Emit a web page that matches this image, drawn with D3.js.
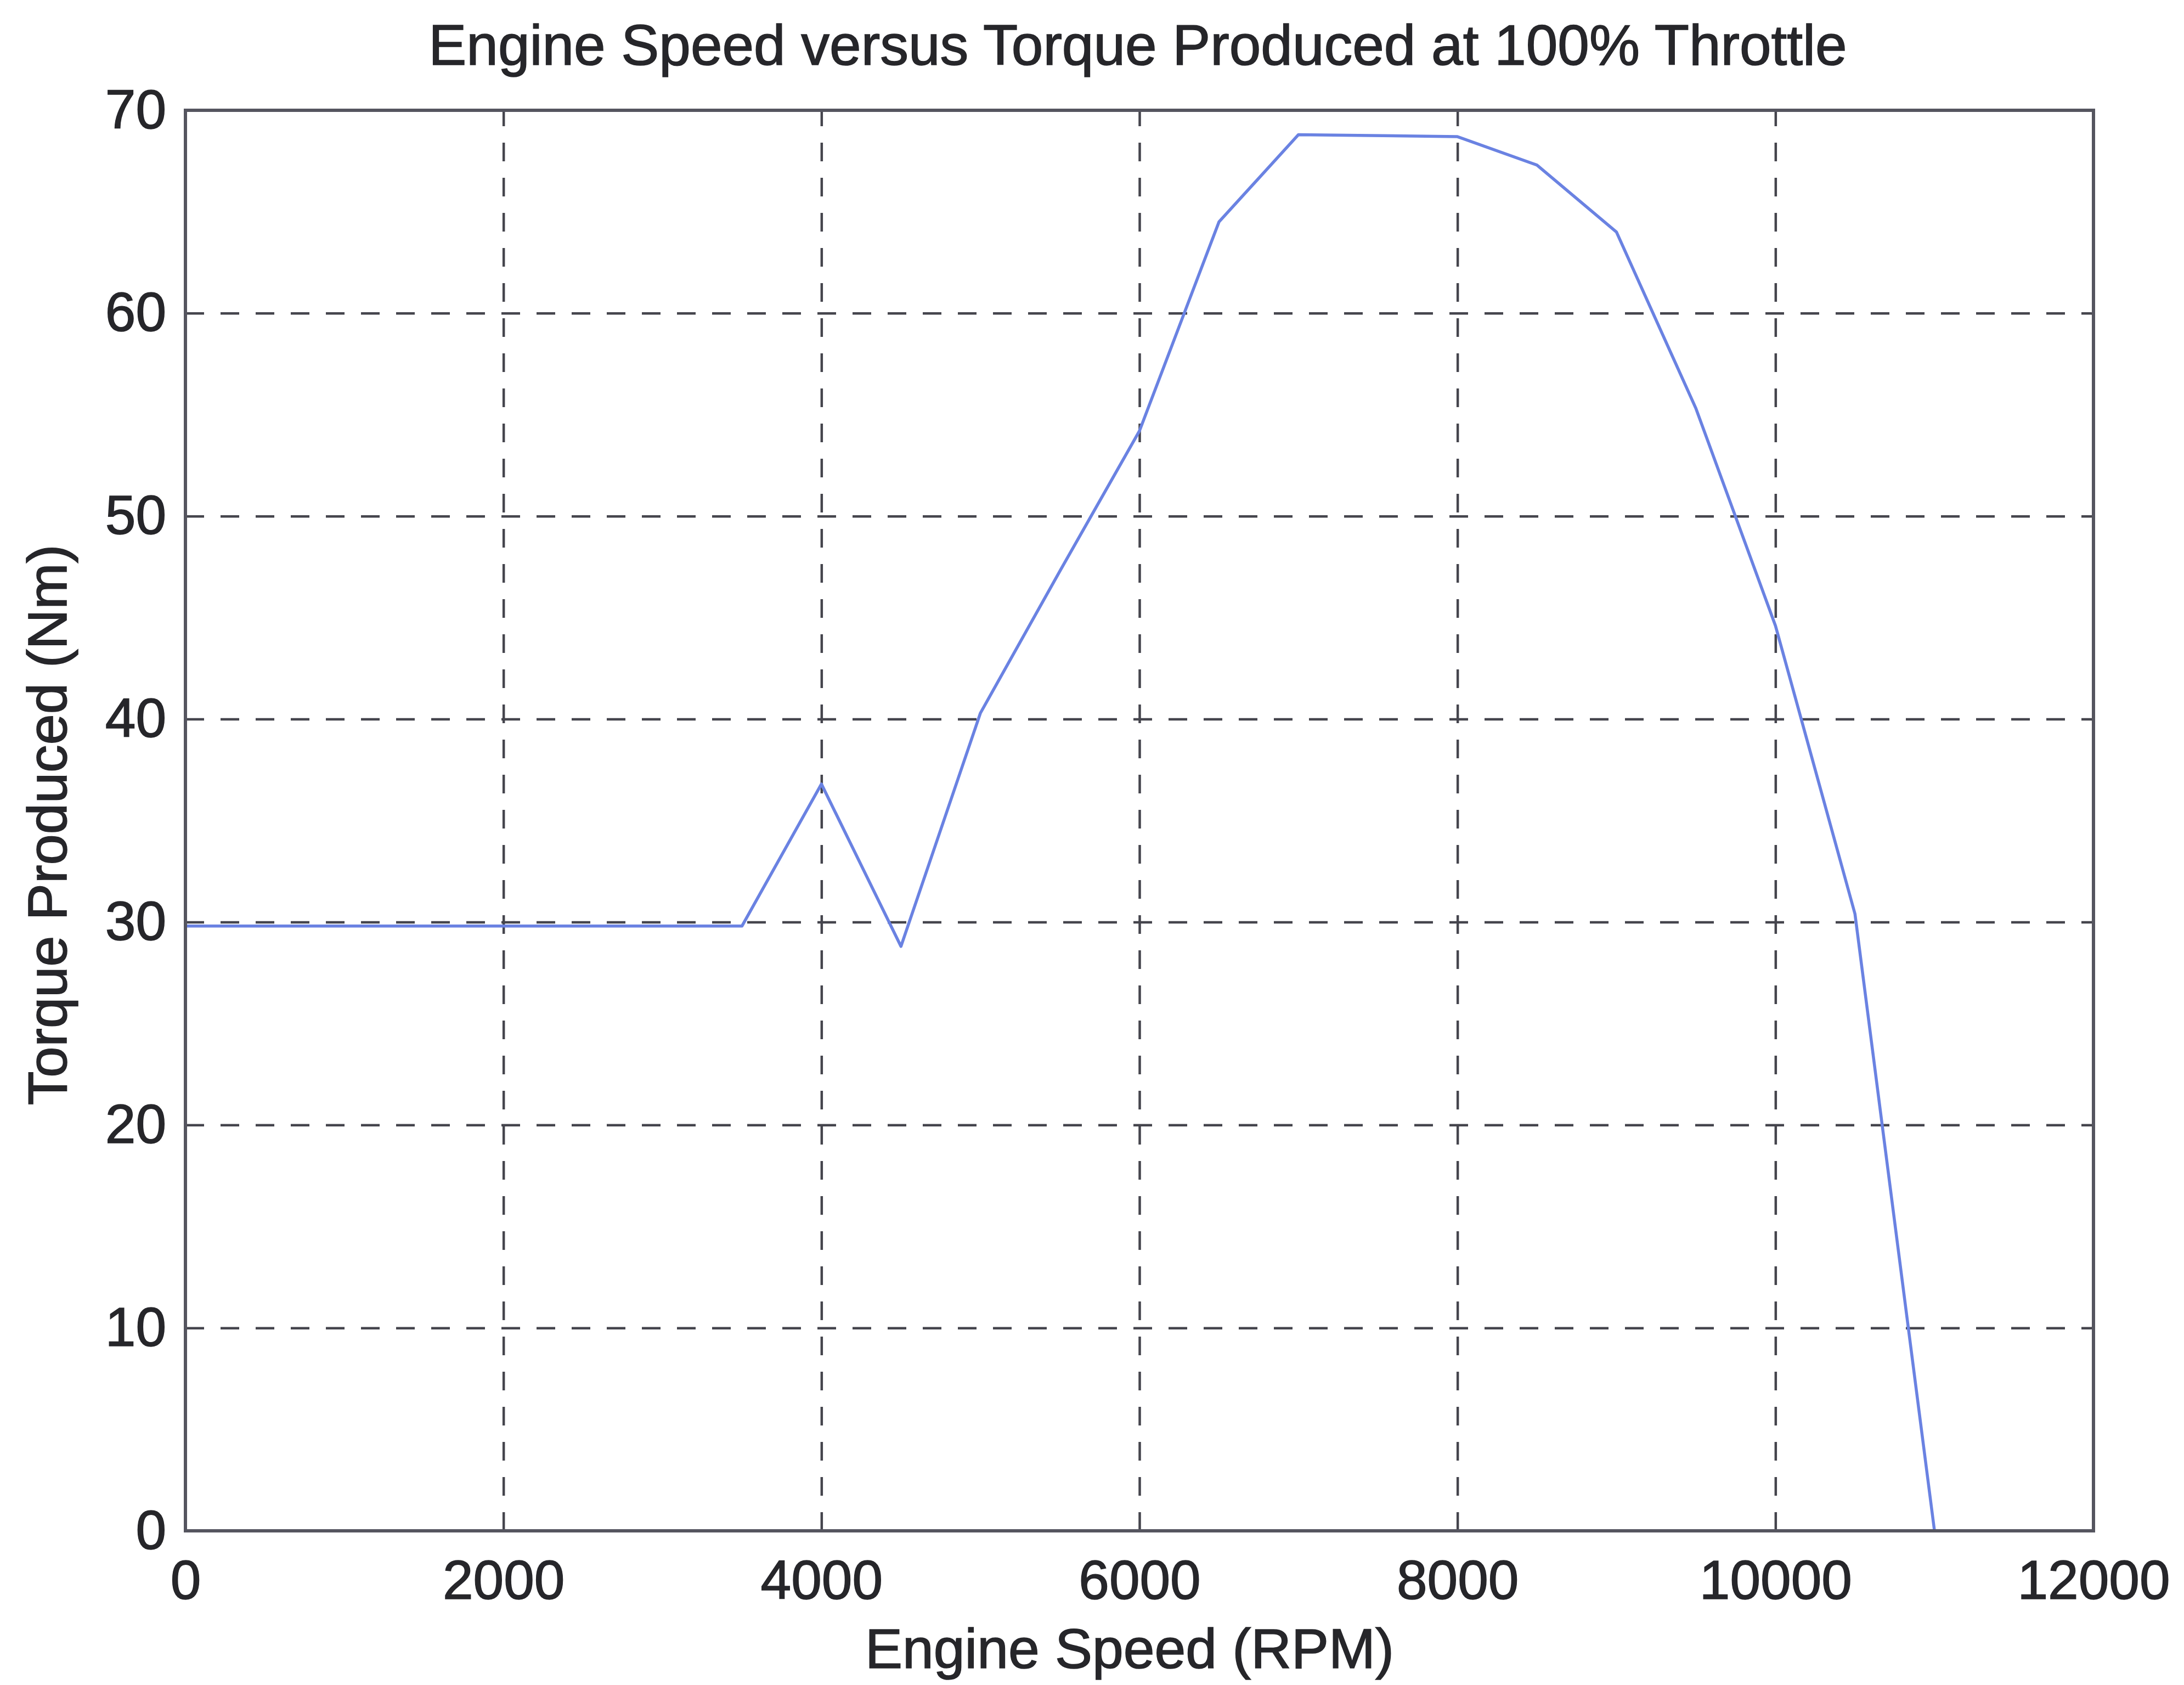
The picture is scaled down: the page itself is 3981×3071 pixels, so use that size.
<!DOCTYPE html>
<html>
<head>
<meta charset="utf-8">
<script src="https://cdn.jsdelivr.net/npm/d3@7"></script>
<style>
  html, body { margin: 0; padding: 0; background: #ffffff; }
  svg { display: block; }
  text { font-family: "Liberation Sans", Arial, Helvetica, sans-serif; fill: #26262a; stroke: #26262a; stroke-width: 1.6; }
</style>
</head>
<body>
<svg id="chart" width="3981" height="3071"></svg>
<script>
// Full-throttle torque curve: engine speed (RPM) against torque (Nm)
const engineSpeed = [0, 3500, 4000, 4500, 5000, 5500, 6000, 6500, 7000, 8000, 8500, 9000, 9500, 10000, 10500, 11000];
const torqueNm    = [29.8, 29.8, 36.8, 28.8, 40.3, 47.3, 54.2, 64.5, 68.8, 68.7, 67.3, 64.0, 55.3, 44.6, 30.4, 0];

const xTicks = [0, 2000, 4000, 6000, 8000, 10000, 12000];
const yTicks = [0, 10, 20, 30, 40, 50, 60, 70];

const titleText  = "Engine Speed versus Torque Produced at 100% Throttle";
const xLabelText = "Engine Speed (RPM)";
const yLabelText = "Torque Produced (Nm)";

const W = 3981, H = 3071;
const margin = { left: 338, right: W - 3816, top: 201, bottom: H - 2790 };
const iw = W - margin.left - margin.right;
const ih = H - margin.top - margin.bottom;

const svg = d3.select("#chart");
svg.append("rect").attr("width", W).attr("height", H).attr("fill", "#ffffff");

const g = svg.append("g").attr("transform", `translate(${margin.left},${margin.top})`);

const x = d3.scaleLinear().domain([0, 12000]).range([0, iw]);
const y = d3.scaleLinear().domain([0, 70]).range([ih, 0]);

// dashed grid
const gridStyle = sel => {
  sel.select(".domain").remove();
  sel.selectAll(".tick line")
    .attr("stroke", "#45454d")
    .attr("stroke-width", 4.5)
    .attr("stroke-dasharray", "34 30");
  sel.selectAll(".tick text").remove();
};
g.append("g")
  .attr("transform", `translate(0,${ih})`)
  .call(d3.axisBottom(x).tickValues(xTicks.slice(1, -1)).tickSize(-ih))
  .call(gridStyle);
g.append("g")
  .call(d3.axisLeft(y).tickValues(yTicks.slice(1, -1)).tickSize(-iw))
  .call(gridStyle);

// tick labels
const labelStyle = sel => {
  sel.select(".domain").remove();
  sel.selectAll(".tick line").remove();
  sel.selectAll(".tick text")
    .attr("font-size", 100)
    .attr("fill", "#26262a")
    .attr("font-family", "\"Liberation Sans\", Arial, sans-serif");
};
g.append("g")
  .attr("transform", `translate(0,${ih})`)
  .call(d3.axisBottom(x).tickValues(xTicks).tickSize(0).tickPadding(53).tickFormat(d3.format("d")))
  .call(labelStyle);
g.append("g")
  .call(d3.axisLeft(y).tickValues(yTicks).tickSize(0).tickPadding(35).tickFormat(d3.format("d")))
  .call(labelStyle);

// torque curve
const pts = engineSpeed.map((r, i) => [r, torqueNm[i]]);
g.append("path")
  .datum(pts)
  .attr("fill", "none")
  .attr("stroke", "#6a82e2")
  .attr("stroke-width", 5.5)
  .attr("stroke-linejoin", "round")
  .attr("d", d3.line().x(d => x(d[0])).y(d => y(d[1])));

// axes box
g.append("rect")
  .attr("x", 0).attr("y", 0)
  .attr("width", iw).attr("height", ih)
  .attr("fill", "none")
  .attr("stroke", "#55555f")
  .attr("stroke-width", 6);

// title and axis labels
svg.append("text")
  .attr("x", margin.left + iw / 2 - 3)
  .attr("y", 118)
  .attr("text-anchor", "middle")
  .attr("font-size", 103.5)
  .text(titleText);

svg.append("text")
  .attr("x", 2059)
  .attr("y", 3040)
  .attr("text-anchor", "middle")
  .attr("font-size", 102)
  .text(xLabelText);

svg.append("text")
  .attr("transform", `translate(121,${margin.top + ih / 2 + 8}) rotate(-90)`)
  .attr("text-anchor", "middle")
  .attr("font-size", 101)
  .text(yLabelText);
</script>
</body>
</html>
